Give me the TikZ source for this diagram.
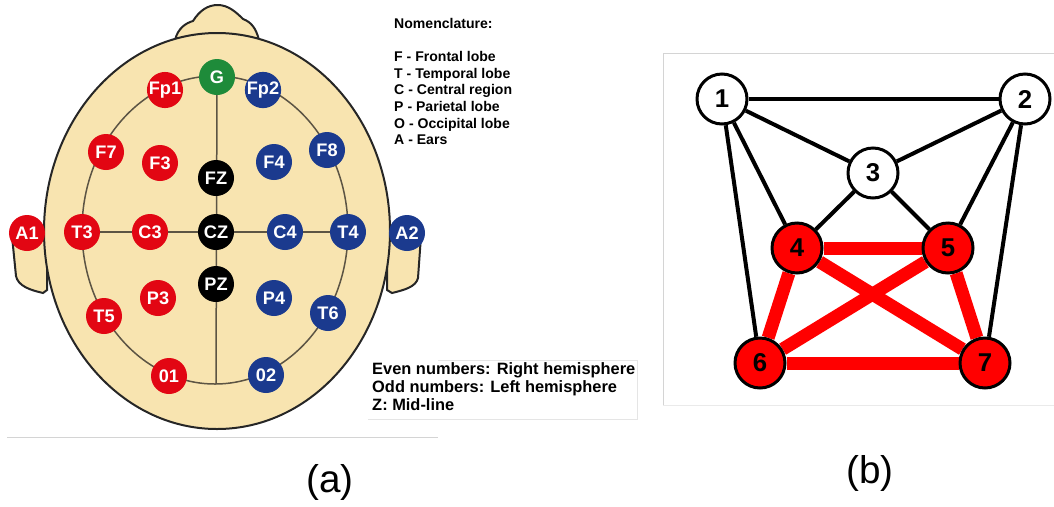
\documentclass[tikz,border=0pt]{standalone}
\usepackage{fontspec}
\setmainfont{Liberation Sans}
\usetikzlibrary{positioning}
\definecolor{eegRed}{HTML}{E20613}
\definecolor{eegBlue}{HTML}{1B3A8E}
\definecolor{eegGreen}{HTML}{1E8B3A}
\definecolor{skin}{HTML}{F8E4B0}
\definecolor{wire}{HTML}{5C5444}
\definecolor{rule}{HTML}{D4D4D4}
\pgfdeclarelayer{head}
\pgfdeclarelayer{wires}
\pgfsetlayers{head,wires,main}

\begin{document}
\begin{tikzpicture}[x=0.3mm, y=-0.3mm,
  elec/.style={circle, fill=#1, minimum size=10.8mm, inner sep=0pt, text=white, font=\fontsize{15.5}{15.5}\selectfont\bfseries},
  vert/.style={circle, draw, line width=0.9mm, fill=#1, minimum size=15mm, inner sep=0pt, font=\fontsize{22}{22}\selectfont\bfseries},
  edge/.style={line width=1.2mm},
  hot/.style={line width=3.9mm, color=red},
  skinline/.style={line width=0.6mm, draw=black!85, fill=skin},
  legend/.style={align=left, anchor=north west, inner sep=0pt, font=\fontsize{12}{14.2}\selectfont\bfseries},
  caption/.style={font=\fontsize{33}{33}\selectfont}
]
\useasboundingbox (0,0) rectangle (1054,506);

% (a) electrodes of the 10-20 system
\node[elec=eegGreen] (g)   at (217,77)  {G};
\node[elec=eegRed]   (fp1) at (165,90)  {Fp1};
\node[elec=eegBlue]  (fp2) at (263,90)  {Fp2};
\node[elec=eegRed]   (f7)  at (106,152) {F7};
\node[elec=eegRed]   (f3)  at (160,163) {F3};
\node[elec=black]    (fz)  at (216,178) {FZ};
\node[elec=eegBlue]  (f4)  at (274,162) {F4};
\node[elec=eegBlue]  (f8)  at (327,150) {F8};
\node[elec=eegRed]   (a1)  at (27,233)  {A1};
\node[elec=eegRed]   (t3)  at (82,232)  {T3};
\node[elec=eegRed]   (c3)  at (150,232) {C3};
\node[elec=black]    (cz)  at (216,232) {CZ};
\node[elec=eegBlue]  (c4)  at (285,232) {C4};
\node[elec=eegBlue]  (t4)  at (348,232) {T4};
\node[elec=eegBlue]  (a2)  at (407,233) {A2};
\node[elec=black]    (pz)  at (216,284) {PZ};
\node[elec=eegRed]   (p3)  at (158,298) {P3};
\node[elec=eegBlue]  (p4)  at (274,298) {P4};
\node[elec=eegRed]   (t5)  at (104,316) {T5};
\node[elec=eegBlue]  (t6)  at (328,313) {T6};
\node[elec=eegRed]   (o1)  at (169,376) {01};
\node[elec=eegBlue]  (o2)  at (266,375) {02};
\coordinate (oz) at (216,384);

% scalp, ears and nose under the electrodes
\begin{pgfonlayer}{head}
\draw[skinline] (47,232) -- (12,236) -- (16,276) .. controls (18,286) and (30,290) .. (43,293) -- (47,290) -- cycle;
\draw[skinline] (387,232) -- (421,236) -- (418,278) .. controls (416,287) and (404,290) .. (392,293) -- (387,290) -- cycle;
\draw[skinline] (175,40) .. controls (178,28) and (186,23) .. (193,21) .. controls (200,10) and (208,5) .. (218,5)
  .. controls (228,5) and (236,12) .. (243,19) .. controls (251,22) and (256,28) .. (259,40) -- cycle;
\draw[skinline] (217,231) ellipse [x radius=173, y radius=198];
\end{pgfonlayer}

\begin{pgfonlayer}{wires}
\draw[wire, line width=0.45mm] (215,230) ellipse [x radius=133, y radius=154];
\draw[wire, line width=0.45mm] (g) -- (oz);
\draw[wire, line width=0.45mm] (t3) -- (t4);
\end{pgfonlayer}

% key
\node[legend] (nomen) at (394,18) {Nomenclature:\\[14.2pt]
  F - Frontal lobe\\ T - Temporal lobe\\ C - Central region\\
  P - Parietal lobe\\ O - Occipital lobe\\ A - Ears};
\node[legend, font=\fontsize{14}{15.4}\selectfont\bfseries] (sides) at (372,362) {Even numbers: Right hemisphere\\
  Odd numbers: Left hemisphere\\ Z: Mid-line};
\draw[rule!60] (438,360) -- (637,360) -- (637,419) -- (368,419);
\draw[rule] (7,437) -- (438,437);

% (b) graph of the channel groups
\draw[rule] (663,405) -- (663,53) -- (1054,53);
\draw[rule!50] (663,405) -- (1054,405);
\node[vert=white] (n1) at (722,99)  {1};
\node[vert=white] (n2) at (1025,99) {2};
\node[vert=white] (n3) at (873,173) {3};
\node[vert=red]   (n4) at (797,248) {4};
\node[vert=red]   (n5) at (948,248) {5};
\node[vert=red]   (n6) at (760,363) {6};
\node[vert=red]   (n7) at (985,363) {7};
\begin{pgfonlayer}{wires}
\draw[edge] (n1) -- (n2);
\draw[edge] (n1) -- (n3);
\draw[edge] (n2) -- (n3);
\draw[edge] (n1) -- (n4);
\draw[edge] (n1) -- (n6);
\draw[edge] (n2) -- (n5);
\draw[edge] (n2) -- (n7);
\draw[edge] (n3) -- (n4);
\draw[edge] (n3) -- (n5);
\draw[hot] (n4) -- (n5);
\draw[hot] (n4) -- (n6);
\draw[hot] (n4) -- (n7);
\draw[hot] (n5) -- (n6);
\draw[hot] (n5) -- (n7);
\draw[hot] (n6) -- (n7);
\end{pgfonlayer}

\node[caption] (capa) at (330,482) {(a)};
\node[caption] (capb) at (870,473) {(b)};
\end{tikzpicture}
\end{document}
